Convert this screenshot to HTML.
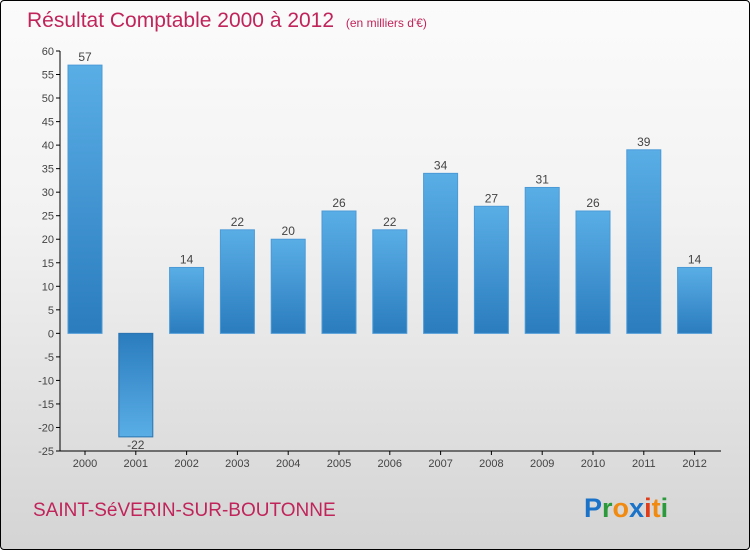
<!DOCTYPE html>
<html><head><meta charset="utf-8"><style>
body{margin:0;}
#wrap{position:relative;width:748px;height:548px;border:1px solid #000;border-radius:4px;background:linear-gradient(#fbfbfb,#f2f2f2 40%,#d4d4d4);overflow:hidden;font-family:"Liberation Sans",sans-serif;}
</style></head><body>
<div id="wrap">
<svg id="chart" width="748" height="548">
<defs>
<linearGradient id="gp" x1="0" y1="0" x2="0" y2="1"><stop offset="0" stop-color="#5aaee6"/><stop offset="1" stop-color="#2a7cbd"/></linearGradient>
<linearGradient id="gn" x1="0" y1="0" x2="0" y2="1"><stop offset="0" stop-color="#2a7cbd"/><stop offset="1" stop-color="#5aaee6"/></linearGradient>
</defs>
<text x="26" y="26" font-size="21" fill="#c0245a">Résultat Comptable 2000 à 2012 <tspan font-size="12" dx="6">(en milliers d'€)</tspan></text>
<text x="32" y="515" font-size="19" fill="#c0245a">SAINT-SéVERIN-SUR-BOUTONNE</text>
<g font-size="27" font-weight="bold" font-family="'Liberation Sans',sans-serif">
<text x="583" y="516"><tspan fill="#1a73c9">P</tspan><tspan fill="#2a9a3a">r</tspan><tspan fill="#f08a10">o</tspan><tspan fill="#1a73c9">x</tspan><tspan fill="#e03c1a">i</tspan><tspan fill="#f08a10">t</tspan><tspan fill="#2a9a3a">i</tspan></text>
</g>
<g id="axes"></g><g id="bars"></g>
</svg>
</div>
<script>
const years=["2000","2001","2002","2003","2004","2005","2006","2007","2008","2009","2010","2011","2012"];
const values=[57,-22,14,22,20,26,22,34,27,31,26,39,14];
const yTicks=[60,55,50,45,40,35,30,25,20,15,10,5,0,-5,-10,-15,-20,-25];
const NS="http://www.w3.org/2000/svg";
const y=v=>50+(60-v)*400/85;
const x=i=>84+i*50.8;
function el(t,a,p){const e=document.createElementNS(NS,t);for(const k in a)e.setAttribute(k,a[k]);p.appendChild(e);return e;}
const ax=document.getElementById('axes'),bg=document.getElementById('bars');
const yl=el('line',{x1:59,y1:y(60),x2:59,y2:y(-25),stroke:'#000'},ax);


const xl=el('line',{x1:59,y1:y(-25),x2:720,y2:y(-25),stroke:'#000'},ax);


yTicks.forEach(v=>{
 el('line',{x1:55,x2:59,y1:y(v),y2:y(v),stroke:'#000'},ax);
 const t=el('text',{x:53,y:y(v)+4,'text-anchor':'end','font-size':11,fill:'#444'},ax);t.textContent=v;
 
 
});
years.forEach((yr,i)=>{
 el('line',{x1:x(i),x2:x(i),y1:y(-25),y2:y(-25)+4,stroke:'#000'},ax);
 const t=el('text',{x:x(i),y:y(-25)+16,'text-anchor':'middle','font-size':11,fill:'#444'},ax);t.textContent=yr;
 
 
 const v=values[i],top=Math.min(y(v),y(0)),h=Math.abs(y(v)-y(0));
 const r=el('rect',{x:x(i)-17,y:top,width:34,height:h,fill:v>=0?'url(#gp)':'url(#gn)',stroke:v>=0?'#4a9ad8':'#2a74b0'},bg);
 
 
 const l=el('text',{x:x(i),y:v>=0?y(v)-4:y(v)+12,'text-anchor':'middle','font-size':12,fill:'#444'},bg);l.textContent=v;
 
 
});
</script>
</body></html>
